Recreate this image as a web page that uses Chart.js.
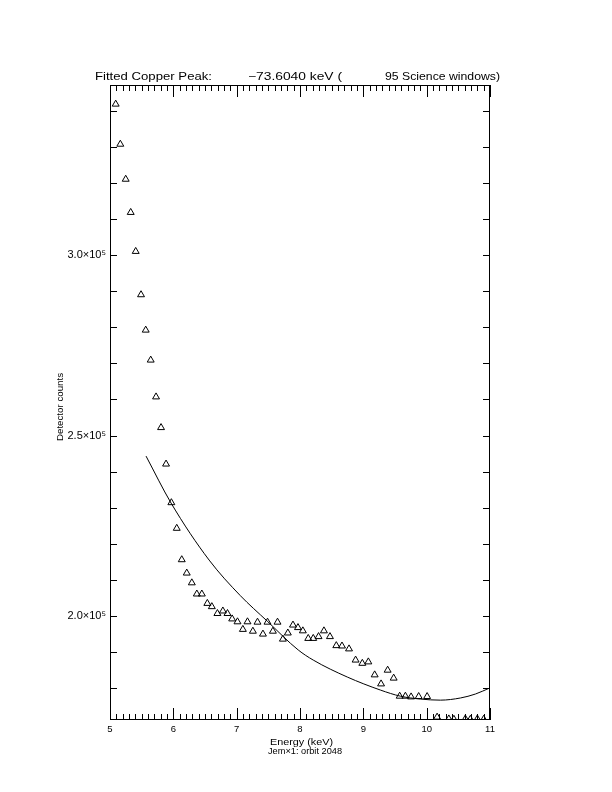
<!DOCTYPE html>
<html>
<head>
<meta charset="utf-8">
<script src="https://cdn.jsdelivr.net/npm/chart.js@4.4.1/dist/chart.umd.min.js"></script>
<style>
  html, body { margin: 0; padding: 0; background: #fff; }
  canvas { display: block; }
</style>
</head>
<body>
<canvas id="chart" width="612" height="792"></canvas>
<script>
// Measured spectrum (triangles)
const energy = [5.090, 5.163, 5.248, 5.327, 5.406, 5.490, 5.564, 5.643, 5.727, 5.806,
  5.885, 5.969, 6.054, 6.133, 6.212, 6.292, 6.371, 6.450, 6.537, 6.608,
  6.696, 6.782, 6.855, 6.929, 7.013, 7.098, 7.171, 7.256, 7.329, 7.415,
  7.487, 7.572, 7.645, 7.730, 7.808, 7.889, 7.968, 8.045, 8.130, 8.209,
  8.293, 8.378, 8.473, 8.573, 8.663, 8.774, 8.878, 8.984, 9.079, 9.179,
  9.280, 9.384, 9.479, 9.574, 9.664, 9.754, 9.874, 10.007, 10.165, 10.35,
  10.43, 10.61, 10.69, 10.80, 10.90];
const counts = [341800, 330700, 321000, 311800, 301000, 289000, 279200, 270900, 260700, 252200,
  242100, 231400, 224300, 215600, 211900, 209200, 206100, 206100, 203500, 202600,
  200700, 201400, 200700, 199200, 198400, 196300, 198400, 195800, 198300, 195000,
  198300, 195800, 198300, 193600, 195300, 197500, 196800, 195900, 193800, 193800,
  194300, 195900, 194300, 191800, 191700, 190900, 187800, 186900, 187300, 183700,
  181200, 185000, 182800, 177800, 177800, 177600, 177700, 177700, 172000, 171500,
  171400, 171500, 171400, 171500, 171400];

// Fitted curve
const fitEnergy = [5.569, 5.964, 6.565, 7.055, 7.482, 7.972, 8.209, 8.747, 9.269, 9.585,
  9.901, 10.217, 10.534, 10.771, 11.0];
const fitCounts = [244300, 231300, 215500, 205700, 198600, 190600, 187800, 183100, 179500, 177800,
  177000, 176700, 177300, 178400, 180100];

// Axes
const xTicks = [5, 6, 7, 8, 9, 10, 11];
const yTicks = [200000, 250000, 300000];
const yTickText = ["2.0\u00d710\u2075", "2.5\u00d710\u2075", "3.0\u00d710\u2075"];
const xMin = 5, xMax = 11, yMin = 171200, yMax = 347100;

const FONT = '"Liberation Sans", "DejaVu Sans", sans-serif';

// draw text squeezed/stretched to a target width
function fitText(ctx, text, x, y, size, width, align) {
  ctx.save();
  ctx.font = size + "px " + FONT;
  const w = ctx.measureText(text).width;
  ctx.translate(x, y);
  ctx.scale(width / w, 1);
  ctx.textAlign = align || "left";
  ctx.textBaseline = "alphabetic";
  ctx.fillStyle = "#000";
  ctx.fillText(text, 0, 0);
  ctx.restore();
}

// IDL style frame, inward ticks, titles
const frame = {
  id: "frame",
  afterDraw(chart) {
    const ctx = chart.ctx;
    const a = chart.chartArea;
    const xs = chart.scales.x, ys = chart.scales.y;
    ctx.save();
    ctx.strokeStyle = "#000";
    ctx.lineWidth = 1;
    ctx.strokeRect(Math.round(a.left) + 0.5, Math.round(a.top) + 0.5,
      Math.round(a.right - a.left) - 1, Math.round(a.bottom - a.top) - 1);

    ctx.beginPath();
    for (let i = 0; i <= 60; i++) {
      const v = xMin + i * 0.1;
      const px = Math.round(xs.getPixelForValue(v)) + 0.5;
      const len = i % 10 === 0 ? 12 : 6;
      ctx.moveTo(px, a.bottom); ctx.lineTo(px, a.bottom - len);
      ctx.moveTo(px, a.top); ctx.lineTo(px, a.top + len);
    }
    for (let v = 180000; v <= 340000; v += 10000) {
      const py = Math.round(ys.getPixelForValue(v)) + 0.5;
      ctx.moveTo(a.left, py); ctx.lineTo(a.left + 7, py);
      ctx.moveTo(a.right, py); ctx.lineTo(a.right - 7, py);
    }
    ctx.stroke();
    ctx.restore();

    fitText(ctx, "Fitted Copper Peak:", 95, 80, 10.5, 117);
    fitText(ctx, "\u221273.6040 keV (", 248, 80, 10.5, 94);
    fitText(ctx, "95 Science windows)", 385, 80, 10.5, 115);
    fitText(ctx, "Energy (keV)", 270, 745, 9, 63);
    fitText(ctx, "Jem\u00d71: orbit 2048", 268, 753.5, 9, 74);

    ctx.save();
    ctx.translate(63, 441);
    ctx.rotate(-Math.PI / 2);
    fitText(ctx, "Detector counts", 0, 0, 9.5, 68);
    ctx.restore();
  }
};

new Chart(document.getElementById("chart"), {
  type: "scatter",
  data: {
    datasets: [
      {
        data: energy.map((e, i) => ({ x: e, y: counts[i] })),
        pointStyle: "triangle",
        pointRadius: 4,
        pointBorderWidth: 1,
        borderColor: "#000",
        backgroundColor: "rgba(0,0,0,0)",
        showLine: false
      },
      {
        data: fitEnergy.map((e, i) => ({ x: e, y: fitCounts[i] })),
        showLine: true,
        borderColor: "#000",
        borderWidth: 1,
        pointRadius: 0,
        cubicInterpolationMode: "monotone"
      }
    ]
  },
  options: {
    responsive: false,
    devicePixelRatio: 1,
    animation: false,
    layout: { padding: { left: 50, right: 122, top: 85, bottom: 42 } },
    plugins: { legend: { display: false }, tooltip: { enabled: false } },
    scales: {
      x: {
        type: "linear",
        min: xMin, max: xMax,
        grid: { display: false, drawTicks: false },
        border: { display: false },
        afterBuildTicks: s => { s.ticks = xTicks.map(v => ({ value: v })); },
        afterFit: s => { s.height = 30; },
        ticks: {
          autoSkip: false, maxRotation: 0, padding: 4, color: "#000",
          font: { family: FONT, size: 9.5 },
          callback: v => String(v)
        }
      },
      y: {
        type: "linear",
        min: yMin, max: yMax,
        grid: { display: false, drawTicks: false },
        border: { display: false },
        afterBuildTicks: s => { s.ticks = yTicks.map(v => ({ value: v })); },
        afterFit: s => { s.width = 60; },
        ticks: {
          autoSkip: false, padding: 4, color: "#000",
          font: { family: FONT, size: 11 },
          callback: v => yTickText[yTicks.indexOf(v)]
        }
      }
    }
  },
  plugins: [frame]
});
</script>
</body>
</html>
